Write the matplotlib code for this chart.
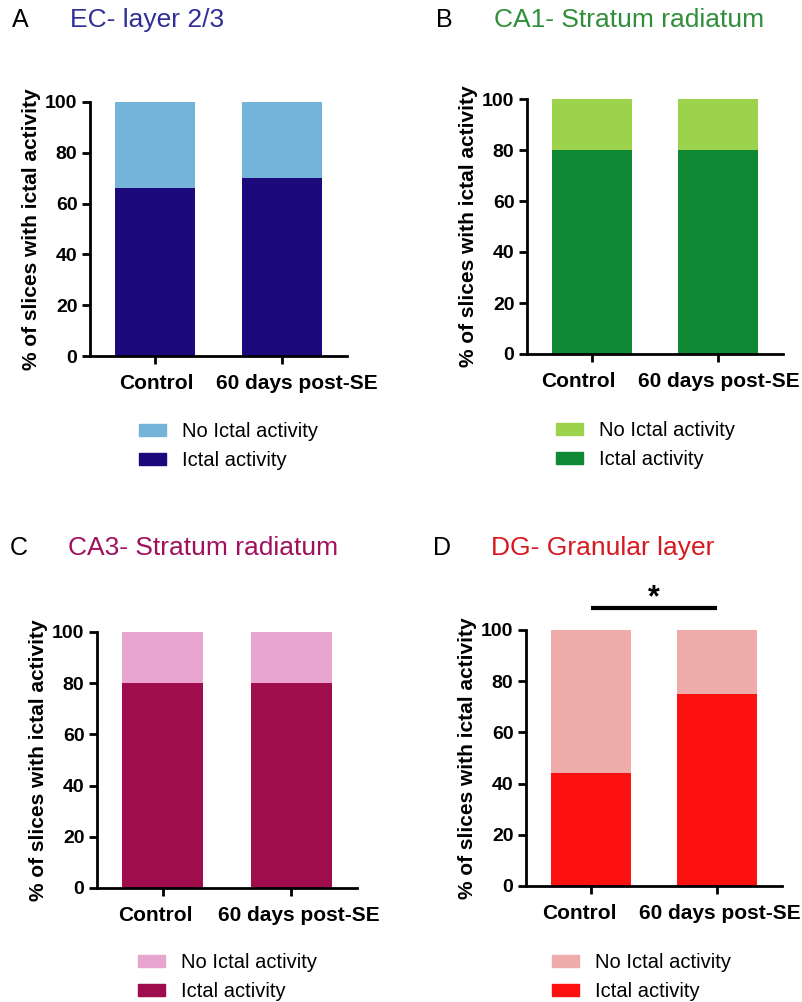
import matplotlib.pyplot as plt
import matplotlib.transforms as mtransforms
from matplotlib.patches import Patch

plt.rcParams['font.family'] = ['Liberation Sans', 'DejaVu Sans']

groups = ['Control', '60 days post-SE']
ec_ictal = [66, 70]
ca1_ictal = [80, 80]
ca3_ictal = [80, 80]
dg_ictal = [44, 75]
legend_labels = ['No Ictal activity', 'Ictal activity']

W, H = 803, 1002


def px_axes(fig, left, right, top, bottom):
    return fig.add_axes([left / W, 1 - bottom / H, (right - left) / W, (bottom - top) / H])


def draw_panel(fig, box, letter, title, title_color, ictal, dark, light, title_xy, leg_xy, nudge):
    ax = px_axes(fig, *box)
    x = range(len(groups))
    no_ictal = [100 - v for v in ictal]
    ax.bar(x, ictal, width=0.63, color=dark, edgecolor='none')
    ax.bar(x, no_ictal, bottom=ictal, width=0.63, color=light, edgecolor='none')
    ax.set_xlim(-0.51, 1.51)
    ax.set_ylim(0, 100)
    ax.set_yticks([0, 20, 40, 60, 80, 100])
    ax.set_xticks(list(x))
    ax.set_xticklabels(groups, fontsize=15, fontweight='bold')
    for lab in ax.get_yticklabels():
        lab.set_fontsize(14)
        lab.set_fontweight('bold')
    ax.tick_params(axis='both', width=2, length=6, pad=3)
    ax.tick_params(axis='x', pad=7)
    # the original spreads the two group labels apart a little so they don't touch
    for lab, dx in zip(ax.get_xticklabels(), nudge):
        shift = mtransforms.ScaledTranslation(dx / 100, 0, fig.dpi_scale_trans)
        lab.set_transform(lab.get_transform() + shift)
    for s in ['top', 'right']:
        ax.spines[s].set_visible(False)
    for s in ['left', 'bottom']:
        ax.spines[s].set_linewidth(2)
    ax.set_ylabel('% of slices with ictal activity', fontsize=15, fontweight='bold', labelpad=3)

    tx, ty = title_xy
    fig.text(tx / W, 1 - ty / H, letter, fontsize=18, va='center', ha='left')
    fig.text((tx + 58) / W, 1 - ty / H, title, fontsize=19, color=title_color, va='center', ha='left')

    handles = [Patch(color=light), Patch(color=dark)]
    lx, ly = leg_xy
    fig.legend(handles, legend_labels, loc='upper left', bbox_to_anchor=(lx / W, 1 - ly / H),
               frameon=False, fontsize=14.5, handlelength=1.35, handleheight=0.6,
               handletextpad=0.8, labelspacing=0.5, borderpad=0, borderaxespad=0)
    return ax


fig = plt.figure(figsize=(W / 100, H / 100), dpi=100)

draw_panel(fig, (90, 347, 102, 356), 'A', 'EC- layer 2/3', '#2f2f9a', ec_ictal,
           '#1c0a7c', '#74b4d8', (12, 20), (139, 422), (1, 15))
draw_panel(fig, (527, 783, 99, 354), 'B', 'CA1- Stratum radiatum', '#2f8f3a', ca1_ictal,
           '#0e8834', '#9dd24d', (436, 20), (556, 421), (-13, 0))
draw_panel(fig, (97, 357, 632, 888), 'C', 'CA3- Stratum radiatum', '#a0105c', ca3_ictal,
           '#a00d4c', '#e8a5cf', (10, 548), (138, 953), (-7, 7))
ax_d = draw_panel(fig, (526, 782, 630, 886), 'D', 'DG- Granular layer', '#d81820', dg_ictal,
                  '#fd1010', '#efaaaa', (433, 548), (552, 953), (-11, 2))

# significance bar between the two DG groups
ax_d.plot([0, 1], [108.5, 108.5], color='black', lw=3, clip_on=False, solid_capstyle='butt')
ax_d.text(0.5, 106.5, '*', ha='center', va='bottom', fontsize=22, fontweight='bold', clip_on=False)

fig.savefig('out.png', dpi=100)
